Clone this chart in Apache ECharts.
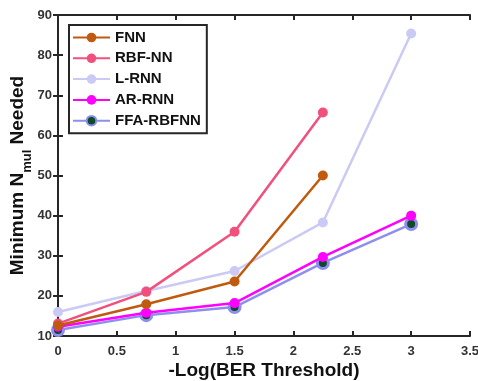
<!DOCTYPE html>
<html><head><meta charset="utf-8">
<script src="https://cdn.jsdelivr.net/npm/echarts@6/dist/echarts.min.js"></script>
<style>html,body{margin:0;padding:0;background:#fff}#c{width:478px;height:381px}</style>
</head><body><div id="c"></div>
<script>
const xValues = [0, 0.75, 1.5, 2.25, 3];
const fnn = [12.6, 17.9, 23.6, 50.0, null];
const rbfnn = [13.1, 21.0, 36.0, 65.7, null];
const lrnn = [16.0, 21.2, 26.2, 38.3, 85.4];
const arrnn = [12.3, 15.8, 18.2, 29.7, 40.0];
const ffarbfnn = [11.5, 15.2, 17.2, 28.2, 37.9];
const seriesNames = ['FNN', 'RBF-NN', 'L-RNN', 'AR-RNN', 'FFA-RBFNN'];
const xTicks = [0, 0.5, 1, 1.5, 2, 2.5, 3, 3.5];
const yTicks = [10, 20, 30, 40, 50, 60, 70, 80, 90];

const font = 'Liberation Sans, Arial, sans-serif';
const axisColor = '#262626';
function pairs(arr){ return xValues.map((x,i)=>[x,arr[i]]).filter(p=>p[1]!==null); }
const colors = ['#BF5A0E', '#F2507C', '#CACAF5', '#FF00FF', '#8E8EEE'];
const datas = [fnn, rbfnn, lrnn, arrnn, ffarbfnn];

const series = datas.map((d,i)=>{
  const s = {
    name: seriesNames[i], type: 'line', data: pairs(d), symbol: 'circle', symbolSize: 10,
    lineStyle: {color: colors[i], width: 2.5},
    itemStyle: {color: colors[i]},
    z: 10 - i
  };
  if (i === 4) {
    s.itemStyle = {color: '#0E4A2A', borderColor: colors[i], borderWidth: 3};
    s.symbolSize = 11;
    s.z = 3;
  }
  if (i === 3) { s.z = 4; }
  return s;
});

const chart = echarts.init(document.getElementById('c'));
chart.setOption({
  animation: false,
  backgroundColor: '#fff',
  grid: {left: 58, right: 8, top: 15, bottom: 45, containLabel: false, outerBoundsMode: 'none'},
  legend: {
    orient: 'vertical', left: 69, top: 25,
    data: seriesNames,
    borderColor: '#262626', borderWidth: 2, padding: [5, 6, 5, 3],
    itemWidth: 37, itemHeight: 12, itemGap: 5.8,
    textStyle: {fontFamily: font, fontWeight: 'bold', fontSize: 15, color: '#111'},
    backgroundColor: '#fff'
  },
  xAxis: [{
    type: 'value', min: 0, max: 3.5, interval: 0.5,
    name: '-Log(BER Threshold)', nameLocation: 'middle', nameGap: 25, nameMoveOverlap: false,
    nameTextStyle: {fontFamily: font, fontWeight: 'bold', fontSize: 19, color: '#111'},
    axisLine: {lineStyle: {color: axisColor, width: 2}},
    axisTick: {inside: true, length: 5, lineStyle: {color: axisColor, width: 2}},
    axisLabel: {fontFamily: font, fontWeight: 'bold', fontSize: 13, color: '#333', margin: 9,
      formatter: v => String(v)},
    splitLine: {show: false}
  }, {
    type: 'value', position: 'top', min: 0, max: 3.5, interval: 0.5,
    axisLine: {show: true, lineStyle: {color: axisColor, width: 2}},
    axisTick: {inside: true, length: 5, lineStyle: {color: axisColor, width: 2}},
    axisLabel: {show: false}, splitLine: {show: false}
  }],
  yAxis: [{
    type: 'value', min: 10, max: 90, interval: 10,
    name: '{a|Minimum N}{b|mul}{a| Needed}', nameLocation: 'middle', nameGap: 31, nameRotate: 90,
    nameMoveOverlap: false,
    nameTextStyle: {fontFamily: font, fontWeight: 'bold', fontSize: 19, color: '#111',
      rich: {a: {fontFamily: font, fontWeight: 'bold', fontSize: 19, color: '#111', verticalAlign: 'bottom'},
             b: {fontFamily: font, fontWeight: 'bold', fontSize: 13, color: '#111', verticalAlign: 'bottom', padding: [0,0,-7,0]}}},
    axisLine: {show: true, lineStyle: {color: axisColor, width: 2}},
    axisTick: {show: true, inside: true, length: 5, lineStyle: {color: axisColor, width: 2}},
    axisLabel: {fontFamily: font, fontWeight: 'bold', fontSize: 13, color: '#333', margin: 6},
    splitLine: {show: false}
  }, {
    type: 'value', position: 'right', min: 10, max: 90, interval: 10,
    axisLine: {show: true, lineStyle: {color: axisColor, width: 2}},
    axisTick: {show: true, inside: true, length: 5, lineStyle: {color: axisColor, width: 2}},
    axisLabel: {show: false}, splitLine: {show: false}
  }],
  series: series
});
</script></body></html>
